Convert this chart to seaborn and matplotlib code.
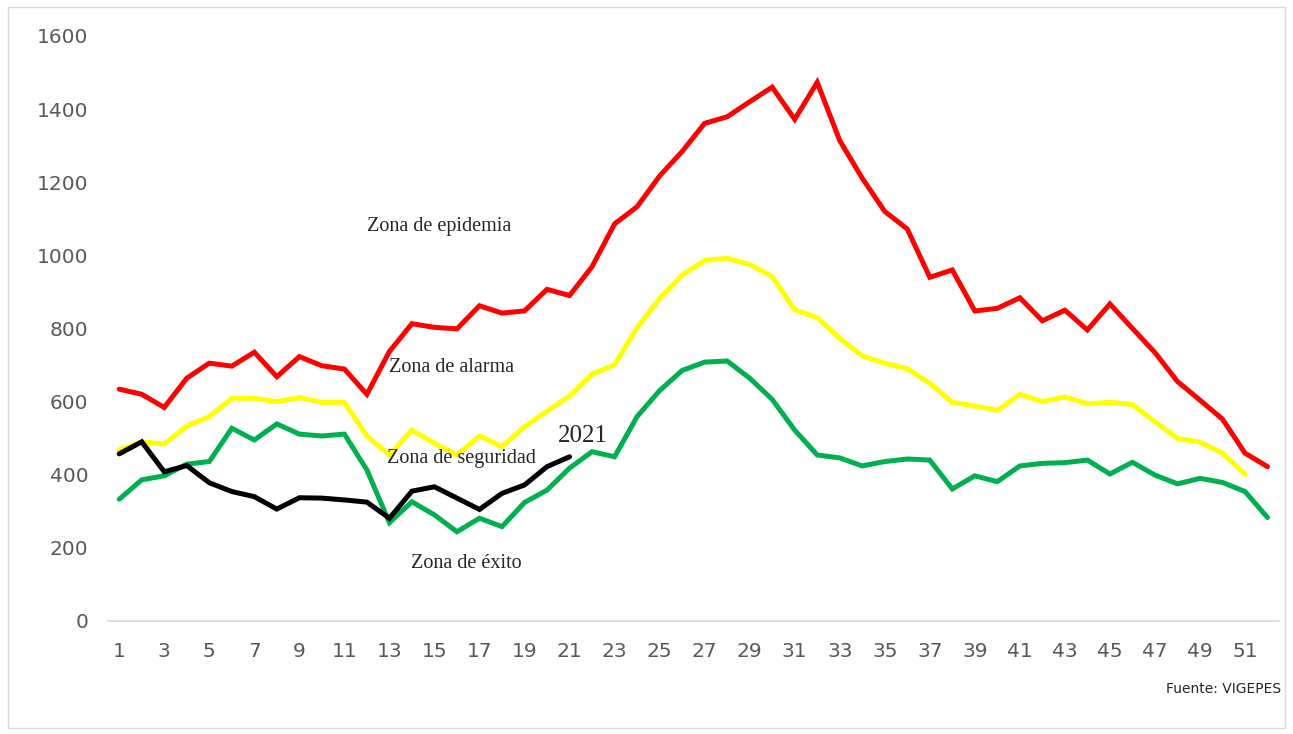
import numpy as np
import pandas as pd
import matplotlib.pyplot as plt
import seaborn as sns
from matplotlib.patches import Rectangle

# --- datos (semanas epidemiológicas) ---
semanas = list(range(1, 53))

epidemia = [634, 620, 584, 664, 705, 697, 735, 668, 723, 698,
            689, 620, 737, 813, 803, 799, 862, 842, 848, 907,
            890, 969, 1086, 1133, 1217, 1284, 1361, 1379, 1420, 1460,
            1372, 1473, 1314, 1211, 1120, 1072, 940, 960, 848, 855,
            884, 821, 850, 796, 867, 800, 734, 655, 604, 552,
            459, 422]

alarma = [468, 490, 484, 533, 559, 609, 609, 600, 611, 598,
          598, 506, 454, 522, 486, 454, 506, 477, 531, 574,
          615, 675, 701, 802, 882, 946, 986, 992, 975, 942,
          851, 830, 773, 725, 705, 690, 650, 598, 588, 576,
          620, 600, 613, 594, 598, 592, 545, 499, 489, 459,
          401]

seguridad = [333, 386, 397, 429, 436, 527, 495, 539, 511, 506,
             511, 413, 269, 326, 290, 244, 281, 258, 324, 358,
             418, 463, 449, 559, 630, 685, 708, 711, 664, 606,
             522, 454, 446, 424, 436, 443, 440, 361, 397, 381,
             424, 431, 433, 440, 402, 434, 399, 375, 390, 379,
             354, 283]

casos_2021 = [457, 490, 408, 425, 378, 354, 340, 306, 337, 336,
              331, 325, 281, 355, 367, 336, 305, 349, 372, 422,
              449]

series = [
    (epidemia, '#FF0000'),
    (alarma, '#FFFF00'),
    (seguridad, '#00B050'),
    (casos_2021, '#000000'),
]

sns.set_theme(style='white')

fig = plt.figure(figsize=(12.93, 7.34), dpi=100)
ax = fig.add_axes([0.0835, 0.154, 0.9055, 0.797])

for valores, color in series:
    df = pd.DataFrame({'semana': semanas[:len(valores)], 'casos': valores})
    sns.lineplot(data=df, x='semana', y='casos', color=color, linewidth=3.6,
                 ax=ax, solid_joinstyle='miter')

ax.set_xlim(0.5, 52.5)
ax.set_ylim(0, 1600)
ax.set_xticks(list(range(1, 52, 2)))
ax.set_yticks(list(range(0, 1601, 200)))
ax.tick_params(axis='both', labelsize=14.5, labelcolor='#595959', length=0)
ax.tick_params(axis='x', pad=15)
ax.tick_params(axis='y', pad=14)
ax.set_xlabel('')
ax.set_ylabel('')
ax.grid(False)
for lado in ['top', 'right', 'left']:
    ax.spines[lado].set_visible(False)
ax.spines['bottom'].set_color('#D9D9D9')
ax.spines['bottom'].set_linewidth(1.2)

# textos de zonas
serif = ['Liberation Serif', 'DejaVu Serif']
ax.text(15.2, 1080, 'Zona de epidemia', fontsize=14.5, family=serif, ha='center', va='center')
ax.text(15.76, 692, 'Zona de alarma', fontsize=14.5, family=serif, ha='center', va='center')
ax.text(16.2, 443, 'Zona de seguridad', fontsize=14.5, family=serif, ha='center', va='center')
ax.text(16.4, 156, 'Zona de éxito', fontsize=14.5, family=serif, ha='center', va='center')
ax.text(21.6, 506, '2021', fontsize=18, family=serif, ha='center', va='center', color='#262626')

fig.text(0.991, 0.061, 'Fuente: VIGEPES', fontsize=10, ha='right', va='center', color='#262626')

fig.patches.append(Rectangle((0.006, 0.008), 0.988, 0.982, transform=fig.transFigure,
                             fill=False, edgecolor='#D9D9D9', linewidth=1))

fig.savefig('out.png', dpi=100)
